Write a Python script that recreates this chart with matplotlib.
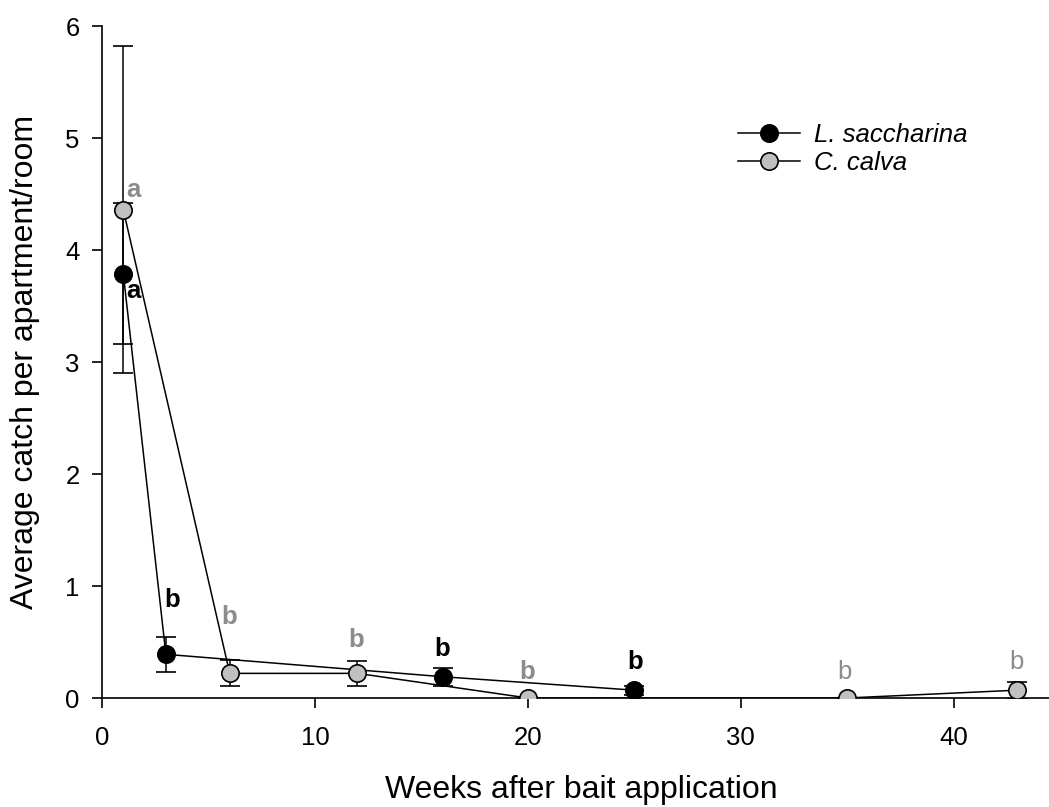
import matplotlib
matplotlib.use("Agg")
import matplotlib.pyplot as plt
from matplotlib.lines import Line2D

plt.rcParams['font.family'] = ['Liberation Sans', 'DejaVu Sans']

# L. saccharina
weeks_ls = [1, 3, 16, 25]
catch_ls = [3.79, 0.39, 0.19, 0.07]
err_ls = [0.63, 0.155, 0.08, 0.04]

# C. calva
weeks_cc = [1, 6, 12, 20, 35, 43]
catch_cc = [4.36, 0.22, 0.22, 0.0, 0.0, 0.07]
err_cc = [1.46, 0.115, 0.11, 0.0, 0.0, 0.075]

# significance letters
letters_ls = [(1.46, 3.63, 'a'), (3.29, 0.875, 'b'), (16.0, 0.44, 'b'), (25.05, 0.32, 'b')]
letters_cc = [(1.46, 4.54, 'a', True), (5.97, 0.72, 'b', True), (11.94, 0.52, 'b', True),
              (19.97, 0.23, 'b', True), (34.9, 0.23, 'b', False), (42.95, 0.32, 'b', False)]

grey_fill = '#c0c0c0'
grey_txt = '#8c8c8c'

fig = plt.figure(figsize=(10.49, 8.07), dpi=100)
W, H = 1049, 807
ax = fig.add_axes([102/W, 109/H, 958/W, 672/H])

ax.errorbar(weeks_ls, catch_ls, yerr=err_ls, color='black', lw=1.1, elinewidth=1.1,
            capsize=7.2, capthick=1.1, marker='o', ms=12.5, mfc='black', mec='black',
            mew=1.2, zorder=2)
ax.errorbar(weeks_cc, catch_cc, yerr=err_cc, color='black', lw=1.1, elinewidth=1.1,
            capsize=7.2, capthick=1.1, marker='o', ms=12.5, mfc=grey_fill, mec='black',
            mew=1.2, zorder=3)

for x, y, t in letters_ls:
    ax.text(x, y, t, color='black', fontsize=18.5, fontweight='bold', ha='center', va='center')
for x, y, t, b in letters_cc:
    ax.text(x, y, t, color=grey_txt, fontsize=18.5, fontweight='bold' if b else 'normal',
            ha='center', va='center')

ax.set_xlim(0, 45)
ax.set_ylim(0, 6)
ax.set_xticks([0, 10, 20, 30, 40])
ax.set_yticks([0, 1, 2, 3, 4, 5, 6])
ax.spines['top'].set_visible(False)
ax.spines['right'].set_visible(False)
ax.spines['left'].set_linewidth(1.2)
ax.spines['bottom'].set_linewidth(1.2)
ax.tick_params(direction='out', length=7, width=1.2, labelsize=18.5, pad=9)
ax.tick_params(axis='x', pad=13)

ax.set_xlabel('Weeks after bait application', fontsize=23)
ax.xaxis.set_label_coords((581-102)/958, -77/672)
ax.set_ylabel('Average catch per apartment/room', fontsize=23)
ax.yaxis.set_label_coords(-62/958, 0.5)

handles = [
    Line2D([], [], color='black', lw=1.1, marker='o', ms=12.5, mfc='black', mec='black', mew=1.2),
    Line2D([], [], color='black', lw=1.1, marker='o', ms=12.5, mfc=grey_fill, mec='black', mew=1.2),
]
leg = ax.legend(handles, ['L. saccharina', 'C. calva'], loc='upper left',
                bbox_to_anchor=(738/W, 1-123/H), bbox_transform=fig.transFigure,
                frameon=False, fontsize=18.5, handlelength=2.4, handletextpad=0.55,
                labelspacing=0.15, borderpad=0, borderaxespad=0)
for t in leg.get_texts():
    t.set_fontstyle('italic')

fig.savefig('out.png', dpi=100)
